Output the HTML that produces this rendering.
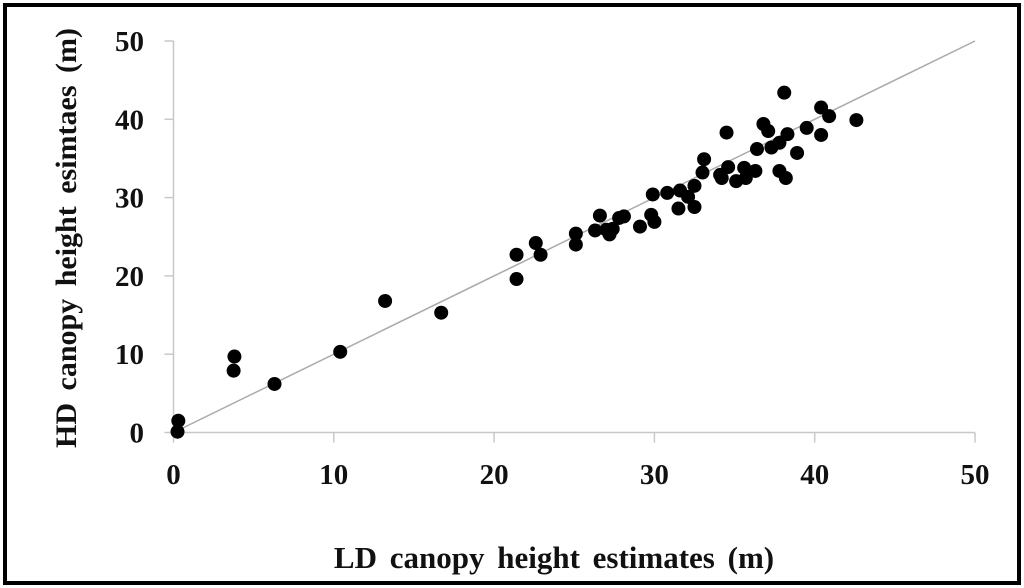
<!DOCTYPE html>
<html><head><meta charset="utf-8"><style>
html,body{margin:0;padding:0;background:#fff;}
svg{display:block;}
text{font-family:"Liberation Serif",serif;font-weight:bold;fill:#111;}
</style></head><body>
<svg width="1024" height="588" viewBox="0 0 1024 588">
<rect x="5" y="5" width="1014" height="578" fill="#fff" stroke="#000" stroke-width="4"/>
<g id="axes"></g>
<g id="marks"></g>
<text x="554" y="568" font-size="31" text-anchor="middle" style="word-spacing:5px">LD canopy height estimates (m)</text>
<text transform="translate(76,238) rotate(-90)" font-size="30" text-anchor="middle" style="word-spacing:5px">HD canopy height esimtaes (m)</text>
</svg>
<script>
const xTicks=[0,10,20,30,40,50];
const yTicks=[0,10,20,30,40,50];
const ldValues=[0.3,0.25,3.8,3.75,6.3,10.4,13.2,16.7,21.4,21.4,22.6,22.9,25.1,25.1,26.3,26.6,27.0,27.2,27.4,27.8,28.1,29.1,29.8,30.0,29.9,30.8,31.5,31.6,32.1,32.5,32.5,33.0,33.1,34.1,34.2,34.5,34.6,35.1,35.6,35.7,36.3,36.4,36.8,37.1,37.3,37.8,37.8,38.2,38.1,38.3,38.9,39.5,40.4,40.9,40.4,42.6];
const hdValues=[1.5,0.1,9.7,7.9,6.2,10.3,16.8,15.3,19.6,22.7,24.2,22.7,25.4,24.0,25.8,27.7,25.9,25.3,26.0,27.4,27.6,26.3,27.8,26.9,30.4,30.6,28.6,30.9,30.1,31.5,28.8,33.2,34.9,32.9,32.5,38.3,33.9,32.1,33.8,32.5,33.4,36.2,39.4,38.5,36.4,37.0,33.4,32.5,43.4,38.1,35.7,38.9,41.5,40.4,38.0,39.9];
const lineEnds=[0,50];
const NS='http://www.w3.org/2000/svg';
function sx(v){return 173.5+v*16.03;}
function sy(v){return 432.5-v*7.83;}
function mk(tag,attrs,parent){const e=document.createElementNS(NS,tag);for(const k in attrs)e.setAttribute(k,attrs[k]);parent.appendChild(e);return e;}
const axes=document.getElementById('axes'),marks=document.getElementById('marks');
let l=mk('line',{x1:sx(0),y1:sy(0),x2:sx(50),y2:sy(0),stroke:'#c8c8c8','stroke-width':1.5},axes);


l=mk('line',{x1:sx(0),y1:sy(0),x2:sx(0),y2:sy(50),stroke:'#c8c8c8','stroke-width':1.5},axes);


xTicks.forEach(t=>{
  const k=mk('line',{x1:sx(t),y1:sy(0),x2:sx(t),y2:sy(0)+10,stroke:'#c8c8c8','stroke-width':1.5},axes);
  
  
  const tx=mk('text',{x:sx(t),y:484,'font-size':29,'text-anchor':'middle'},axes);
  tx.textContent=t;
  
  
});
yTicks.forEach(t=>{
  const k=mk('line',{x1:sx(0)-9,y1:sy(t),x2:sx(0),y2:sy(t),stroke:'#c8c8c8','stroke-width':1.5},axes);
  
  
  const tx=mk('text',{x:144,y:sy(t)+10,'font-size':29,'text-anchor':'end'},axes);
  tx.textContent=t;
  
  
});
const ol=mk('line',{x1:sx(lineEnds[0]),y1:sy(lineEnds[0]),x2:sx(lineEnds[1]),y2:sy(lineEnds[1]),stroke:'#aaa','stroke-width':1.5},marks);


ldValues.forEach((x,i)=>{
  const c=mk('circle',{cx:sx(x),cy:sy(hdValues[i]),r:7,fill:'#000'},marks);
  
  
});
</script>
</body></html>
